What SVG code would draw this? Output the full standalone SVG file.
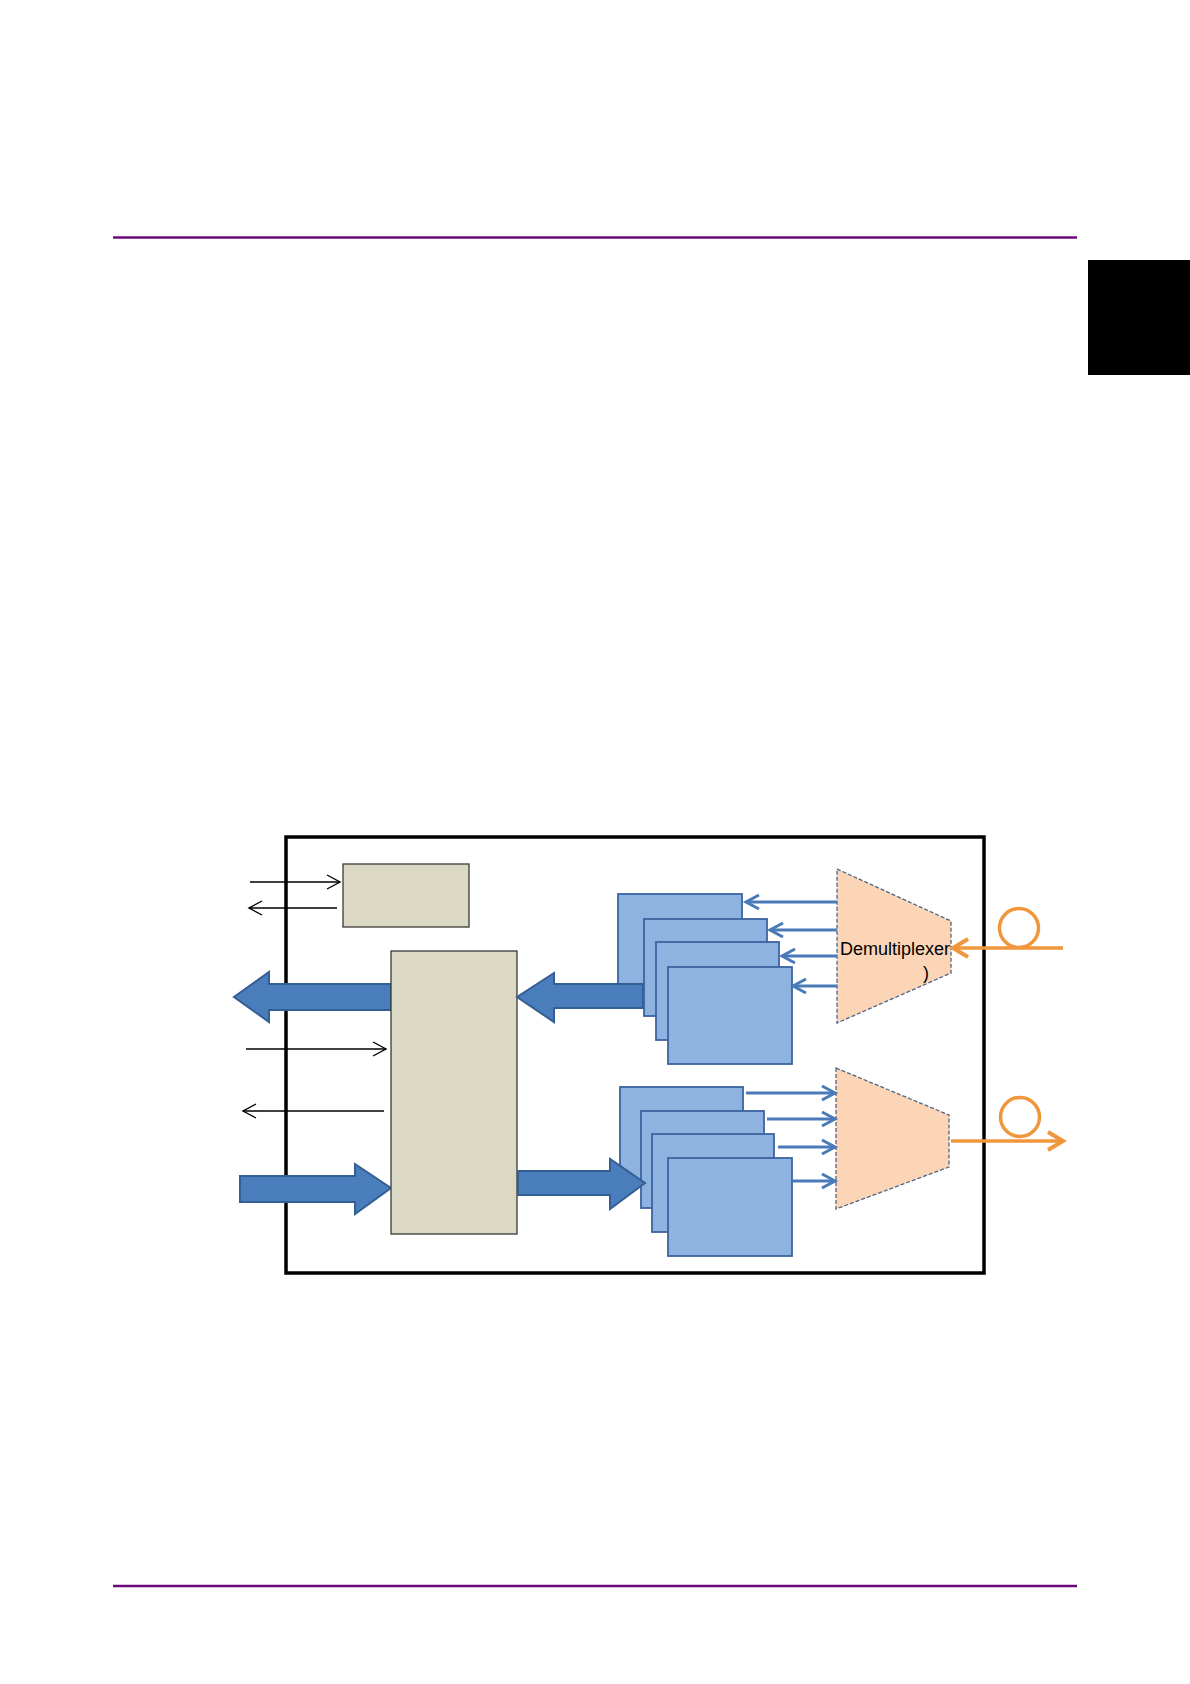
<svg xmlns="http://www.w3.org/2000/svg" width="1190" height="1684" viewBox="0 0 1190 1684">
<style>
.rule{stroke:#6a0a78;stroke-width:2.5}
.beige{fill:#dbd9c3;stroke:#3a3a3a;stroke-width:1.3}
.card{fill:#8fb3e0;stroke:#3b64a0;stroke-width:1.8}
.big{fill:#4a7dbb;stroke:#345f94;stroke-width:2}
.thin{stroke:#000;stroke-width:1.4;fill:none}
.blue{stroke:#4a7ab8;stroke-width:3;fill:none}
.orange{stroke:#f0963c;stroke-width:3.5;fill:none}
.mux{fill:#fbd5b5;stroke:#4d6585;stroke-width:1.3;stroke-dasharray:4 2}
.lbl{font-family:"Liberation Sans",Arial,sans-serif;font-size:18px;fill:#000}
</style>
<defs>
<marker id="mBlk" markerUnits="userSpaceOnUse" markerWidth="20" markerHeight="20" viewBox="-16 -10 20 20" refX="0" refY="0" orient="auto">
<path d="M-13,-7 L0,0 L-13,7" fill="none" stroke="#000" stroke-width="1.4"/>
</marker>
<marker id="mBlue" markerUnits="userSpaceOnUse" markerWidth="22" markerHeight="22" viewBox="-17 -11 22 22" refX="0" refY="0" orient="auto">
<path d="M-13,-7 L0,0 L-13,7" fill="none" stroke="#4a7ab8" stroke-width="3"/>
</marker>
<marker id="mOr" markerUnits="userSpaceOnUse" markerWidth="26" markerHeight="26" viewBox="-20 -13 26 26" refX="0" refY="0" orient="auto">
<path d="M-15,-9 L0,0 L-15,9" fill="none" stroke="#f0963c" stroke-width="4"/>
</marker>
</defs>

<line class="rule" x1="113" y1="237.5" x2="1077" y2="237.5"/>
<line class="rule" x1="113" y1="1586" x2="1077" y2="1586"/>
<rect id="tab" x="1088" y="260" width="102" height="115" fill="#000"/>

<rect id="frame" x="286" y="837" width="698" height="436" fill="none" stroke="#000" stroke-width="3.5"/>

<g id="out-arrow-left"><polygon class="big" points="391,984 269,984 269,972 234,997 269,1022 269,1010 391,1010"/></g>
<g id="in-arrow-left"><polygon class="big" points="240,1176 355,1176 355,1164 391,1188 355,1214 355,1202 240,1202"/></g>

<g id="ctrl-box"><rect class="beige" x="343" y="864" width="126" height="63"/></g>
<g id="main-box"><rect class="beige" x="391" y="951" width="126" height="283"/></g>

<g id="rx-stack">
<rect class="card" x="618" y="894" width="124" height="100"/>
<polygon class="big" points="643,984 554,984 554,973 517,997 554,1022 554,1008 643,1008"/>
<rect class="card" x="644" y="919" width="123" height="97"/>
<rect class="card" x="656" y="942" width="123" height="98"/>
<rect class="card" x="668" y="967" width="124" height="97"/>
</g>

<g id="tx-stack">
<rect class="card" x="620" y="1087" width="123" height="100"/>
<rect class="card" x="641" y="1111" width="123" height="97"/>
<rect class="card" x="652" y="1134" width="122" height="98"/>
<rect class="card" x="668" y="1158" width="124" height="98"/>
<polygon class="big" points="518,1171 610,1171 610,1159 645,1183 610,1209 610,1195 518,1195"/>
</g>

<g id="demux">
<polygon class="mux" points="837,869 951,921 951,973 837,1023"/>
<text class="lbl" x="840" y="955">Demultiplexer</text>
<text class="lbl" x="923" y="979">)</text>
</g>
<g id="mux">
<polygon class="mux" points="836,1068 949,1115 949,1167 836,1209"/>
</g>

<g id="fiber-in"><circle cx="1019" cy="928" r="19.5" fill="none" stroke="#f0963c" stroke-width="3.5"/></g>
<g id="fiber-out"><circle cx="1020" cy="1117" r="19.5" fill="none" stroke="#f0963c" stroke-width="3.5"/></g>

<g id="connectors">
<line class="thin" x1="250" y1="882" x2="340" y2="882" marker-end="url(#mBlk)"/>
<line class="thin" x1="337" y1="908" x2="249" y2="908" marker-end="url(#mBlk)"/>
<line class="thin" x1="246" y1="1049" x2="386" y2="1049" marker-end="url(#mBlk)"/>
<line class="thin" x1="384" y1="1111" x2="243" y2="1111" marker-end="url(#mBlk)"/>

<line class="blue" x1="837" y1="902" x2="746" y2="902" marker-end="url(#mBlue)"/>
<line class="blue" x1="837" y1="930" x2="770" y2="930" marker-end="url(#mBlue)"/>
<line class="blue" x1="837" y1="956" x2="782" y2="956" marker-end="url(#mBlue)"/>
<line class="blue" x1="837" y1="986" x2="793" y2="986" marker-end="url(#mBlue)"/>

<line class="blue" x1="746" y1="1093" x2="835" y2="1093" marker-end="url(#mBlue)"/>
<line class="blue" x1="767" y1="1119" x2="835" y2="1119" marker-end="url(#mBlue)"/>
<line class="blue" x1="778" y1="1147" x2="835" y2="1147" marker-end="url(#mBlue)"/>
<line class="blue" x1="793" y1="1181" x2="835" y2="1181" marker-end="url(#mBlue)"/>

<line class="orange" x1="1063" y1="948" x2="953" y2="948" marker-end="url(#mOr)"/>
<line class="orange" x1="951" y1="1141" x2="1063" y2="1141" marker-end="url(#mOr)"/>
</g>
</svg>
